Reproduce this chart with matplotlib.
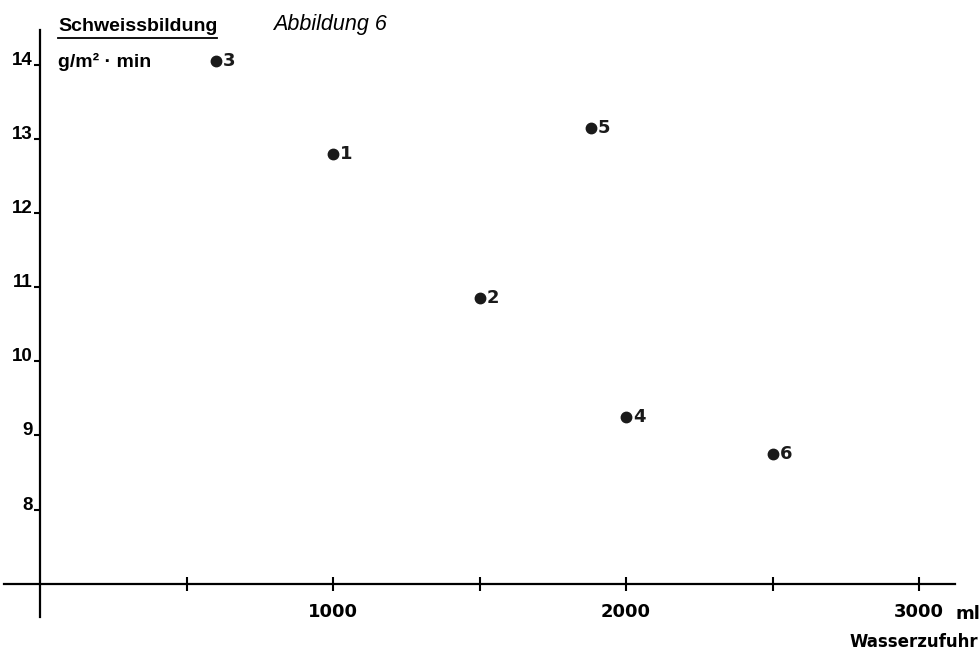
import matplotlib.pyplot as plt
from matplotlib.lines import Line2D

# Versuchspersonen 1-6
labels = ['1', '2', '3', '4', '5', '6']
water = [1000, 1500, 600, 2000, 1880, 2500]  # Wasserzufuhr ml
sweat = [12.8, 10.85, 14.05, 9.25, 13.15, 8.75]  # g/m2 min

y_ticks = [8, 9, 10, 11, 12, 13, 14]
x_ticks = [500, 1000, 1500, 2000, 2500, 3000]
x_ticklabels = ['', '1000', '', '2000', '', '3000']

num_font = 'DejaVu Sans'
txt_font = 'Liberation Sans'

fig = plt.figure(figsize=(9.8, 6.5), dpi=100)
ax = fig.add_axes([0, 0, 1, 1])
ax.set_xlim(-136.5, 3208)
ax.set_ylim(6.105, 14.873)

# axes like hand drawn cross
for s in ['top', 'right']:
    ax.spines[s].set_visible(False)
ax.spines['left'].set_position(('data', 0))
ax.spines['bottom'].set_position(('data', 7))
ax.spines['left'].set_bounds(6.55, 14.47)
ax.spines['bottom'].set_bounds(-123, 3123)
ax.spines['left'].set_linewidth(1.6)
ax.spines['bottom'].set_linewidth(1.6)

ax.set_xticks(x_ticks)
ax.set_xticklabels(x_ticklabels)
ax.set_yticks(y_ticks)
ax.set_yticklabels([str(v) for v in y_ticks])
ax.tick_params(axis='x', direction='inout', length=10, width=1.5, pad=9,
               labelsize=13)
ax.tick_params(axis='y', direction='out', length=4.3, width=1.5, pad=1,
               labelsize=13.5)
for lab in ax.get_xticklabels():
    lab.set_fontfamily(num_font)
    lab.set_fontweight('bold')
for lab in ax.get_yticklabels():
    lab.set_fontfamily(txt_font)
    lab.set_fontweight('bold')
    lab.set_va('baseline')

ax.plot(water, sweat, 'o', color='#1a1a1a', markersize=7.5)
for x, y, t in zip(water, sweat, labels):
    ax.annotate(t, (x, y), xytext=(5, 0), textcoords='offset points',
                va='center', ha='left', fontsize=13, fontweight='bold',
                family=num_font, color='#1a1a1a')

# titles
title = fig.text(58 / 980, 1 - 31 / 650, 'Schweissbildung', fontsize=14,
                 fontweight='bold', family=txt_font, va='baseline')
fig.text(58 / 980, 1 - 67 / 650, 'g/m² · min', fontsize=14,
         fontweight='bold', family=txt_font, va='baseline')
fig.text(273 / 980, 1 - 30 / 650, 'Abbildung 6', fontsize=15.5,
         style='italic', family=txt_font, va='baseline')

fig.text(955 / 980, 1 - 619 / 650, 'ml', fontsize=13, fontweight='bold',
         family=num_font, va='baseline')
fig.text(849 / 980, 1 - 647 / 650, 'Wasserzufuhr', fontsize=12,
         fontweight='bold', family=num_font, va='baseline')

# underline under Schweissbildung
fig.canvas.draw()
bb = title.get_window_extent().transformed(fig.transFigure.inverted())
uy = 1 - 38 / 650
fig.add_artist(Line2D([bb.x0, bb.x1], [uy, uy], color='black', lw=1.3,
                      transform=fig.transFigure))

fig.savefig('out.png', dpi=100)
